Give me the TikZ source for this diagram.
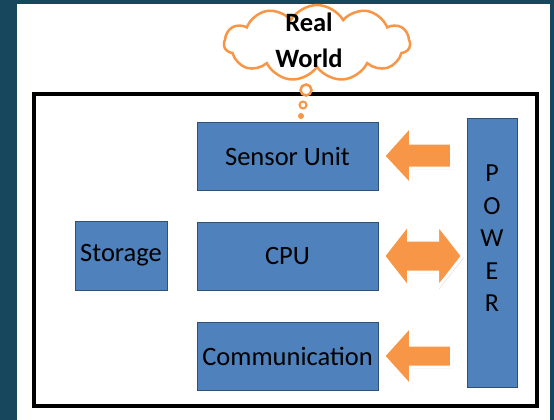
\documentclass[tikz,border=0pt]{standalone}
\usepackage{fontspec}
\setmainfont{Carlito}
\usetikzlibrary{shapes.symbols,shadows}
\definecolor{slate}{HTML}{17475C}
\definecolor{boxblue}{HTML}{4F81BD}
\definecolor{boxedge}{HTML}{2F4F74}
\definecolor{accent}{HTML}{F79646}
\tikzset{
  unit/.style={draw=boxedge, line width=1pt, fill=boxblue, inner sep=0pt,
    font=\fontsize{26.5}{30}\selectfont, text=black},
  blockarrow/.style={fill=accent, draw=white, line width=3pt, line join=miter,
    drop shadow={opacity=0.25, shadow xshift=1.5pt, shadow yshift=-1.5pt}},
  bubble/.style={draw=accent, line width=2.5pt, fill=white},
}
\begin{document}
\begin{tikzpicture}[x=1pt,y=-1pt]
  % slide background and white panel
  \fill[slate] (0,0) rectangle (554,420);
  \fill[white] (17,4) rectangle (550,420);
  \useasboundingbox (0,0) rectangle (554,420);

  % system frame
  \node[draw=black, line width=4pt, minimum width=503pt, minimum height=312pt,
        inner sep=0pt] (frame) at (285,249.5) {};

  % units
  \node[unit, minimum width=181pt, minimum height=68pt] (sensor) at (287.5,156) {Sensor Unit};
  \node[unit, minimum width=181pt, minimum height=68pt] (cpu) at (287.5,256) {CPU};
  \node[unit, minimum width=181pt, minimum height=68pt] (comm) at (287.5,356) {Communication};
  \node[unit, minimum width=92pt, minimum height=69pt] (storage) at (121,255.5) {Storage};
  \node[unit, minimum width=50pt, minimum height=269pt] (power) at (492,252.5) {};
  \node[font=\fontsize{26}{32.5}\selectfont, align=center, inner sep=0pt]
        (powertext) at ([yshift=14pt]power.center) {P\\O\\W\\E\\R};

  % power feed arrows
  \coordinate (a1) at (sensor.east);
  \filldraw[blockarrow] ([xshift=5pt]a1) -- ++(27,-30) -- ++(0,17) -- ++(41,0)
    -- ++(0,25) -- ++(-41,0) -- ++(0,17) -- cycle;
  \coordinate (a2) at (cpu.east);
  \filldraw[blockarrow] ([xshift=5pt]a2) -- ++(25,-32) -- ++(0,16) -- ++(29,0)
    -- ++(0,-16) -- ++(25,32) -- ++(-25,32) -- ++(0,-16) -- ++(-29,0)
    -- ++(0,16) -- cycle;
  \coordinate (a3) at (comm.east);
  \filldraw[blockarrow] ([xshift=5pt]a3) -- ++(27,-30) -- ++(0,19) -- ++(41,0)
    -- ++(0,22) -- ++(-41,0) -- ++(0,19) -- cycle;

  % thought cloud
  \node[cloud, cloud puffs=11, cloud puff arc=120, aspect=2.4, bubble,
        minimum width=186pt, minimum height=76pt, inner sep=0pt] (world) at (317,43) {};
  \node[font=\bfseries\fontsize{26.5}{36}\selectfont, align=center, inner sep=0pt]
        (worldtext) at (309,40) {Real\\World};
  \node[circle, bubble, minimum size=11pt, inner sep=0pt] (b1) at (306,90) {};
  \node[circle, bubble, line width=2pt, minimum size=7pt, inner sep=0pt] (b2) at (303,105) {};
  \node[circle, fill=accent, minimum size=6pt, inner sep=0pt] (b3) at (301,116) {};
\end{tikzpicture}
\end{document}
